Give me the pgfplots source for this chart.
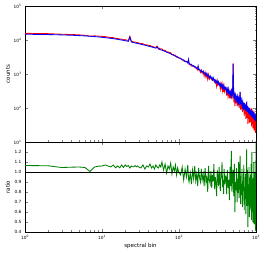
\documentclass[border=0pt]{standalone}
\usepackage{fontspec}
\setmainfont{DejaVu Sans}
\usepackage{pgfplots}
\usepackage{pgfplotstable}
\pgfplotsset{compat=1.18}
\definecolor{mplgreen}{rgb}{0,0.5,0}
\definecolor{mplblue}{rgb}{0,0,1}
\definecolor{mplred}{rgb}{1,0,0}

\pgfplotstableread{
bin blue red ratio
1 14800 15700 1.065
2 14450 15350 1.062
3 14120 14780 1.045
4 13800 14480 1.048
5 13490 14170 1.050
6 13180 13780 1.045
7 12880 12950 1.005
8 12600 13230 1.050
9 12300 13030 1.058
10 12020 12750 1.060
11 11720 12530 1.070
12 11450 12140 1.060
13 11190 11750 1.050
14 10950 11720 1.070
15 10720 11170 1.042
16 10450 11080 1.060
17 10200 10630 1.042
18 9980 10680 1.070
19 9760 10200 1.045
20 9550 10230 1.071
21 9340 9850 1.055
22 9150 9740 1.065
23 12200 12800 1.040
24 8780 9310 1.060
25 8510 8960 1.053
26 8350 8780 1.052
27 8180 8700 1.064
28 8030 8450 1.052
29 7900 8370 1.060
30 7760 8140 1.049
32 7516 7820 1.04
34 7278 7790 1.07
36 7047 7260 1.03
38 6823 7230 1.06
40 6607 6940 1.05
42 6427 6940 1.08
44 6252 6500 1.04
46 6081 6450 1.06
48 5916 6090 1.03
50 5754 6160 1.07
52 6300 6620 1.05
54 5445 5660 1.04
56 5297 5670 1.07
58 5152 5410 1.05
60 5012 5510 1.10
63 4808 4904 1.02
66 4613 4982 1.08
69 4426 4382 0.99
72 4246 4501 1.06
75 4074 4196 1.03
78 3908 4260 1.09
81 3754 3679 0.98
84 3614 3795 1.05
87 3479 3514 1.01
90 3350 3585 1.07
93 3225 3128 0.97
96 3105 3229 1.04
99 2989 2989 1.00
105 2900 2813 0.97
110 2580 2709 1.05
115 2610 2401 0.92
120 2320 2390 1.03
125 2370 2252 0.95
130 2100 2247 1.07
133 2700 2500 0.93
135 2120 1908 0.90
140 1900 1881 0.99
145 1940 1707 0.88
150 1720 1754 1.02
155 1770 1646 0.93
160 1580 1675 1.06
165 1630 1483 0.91
170 1450 1421 0.98
175 1510 1299 0.86
177 1700 1615 0.95
180 1340 1394 1.04
185 1380 1297 0.94
190 1230 1107 0.90
195 1270 1308 1.03
200 1130 1040 0.92
206 1217 1193 0.98
212 1005 864 0.86
218 1090 1134 1.04
224 896 806 0.90
230 1051 998 0.95
236 870 696 0.80
242 905 959 1.06
248 767 706 0.92
254 885 779 0.88
260 752 760 1.01
266 801 673 0.84
272 671 651 0.97
278 780 710 0.91
284 638 689 1.08
290 681 565 0.83
296 569 541 0.95
302 659 587 0.89
308 572 435 0.76
314 611 623 1.02
320 508 472 0.93
326 587 505 0.86
332 481 505 1.05
338 525 473 0.90
344 440 356 0.81
350 510 505 0.99
356 432 406 0.94
362 470 517 1.10
368 388 330 0.85
374 469 431 0.92
380 383 299 0.78
386 412 424 1.03
392 354 312 0.88
398 405 389 0.96
406 416 395 0.95
415 299 233 0.78
424 367 374 1.02
433 270 227 0.84
442 365 336 0.92
451 267 192 0.72
460 303 318 1.05
469 228 196 0.86
478 306 370 1.21
487 224 179 0.80
496 273 257 0.94
505 2000 2040 1.02
514 194 147 0.76
523 251 271 1.08
532 190 114 0.60
541 241 217 0.90
550 168 138 0.82
559 208 216 1.04
568 163 114 0.70
577 215 200 0.93
586 151 119 0.79
595 188 207 1.10
604 136 101 0.74
613 183 178 0.97
622 300 290 1.16
631 131 89 0.68
640 164 144 0.88
649 118 91 0.77
658 159 164 1.03
667 117 76 0.65
676 140 127 0.91
685 105 85 0.81
694 139 149 1.07
703 93 58 0.62
712 138 117 0.85
721 90 66 0.73
730 126 123 0.98
739 82 48 0.58
748 128 115 0.90
757 140 150 1.23
766 77 51 0.66
775 113 115 1.02
784 76 34 0.45
793 110 92 0.84
802 69 48 0.70
811 98 103 1.05
820 67 37 0.55
829 101 89 0.88
838 61 38 0.62
847 90 87 0.97
856 62 42 0.68
865 90 97 1.08
874 56 29 0.52
883 81 97 1.20
892 55 33 0.60
901 83 71 0.86
910 50 25 0.50
919 76 71 0.94
928 51 32 0.63
937 76 84 1.10
946 46 22 0.48
955 67 54 0.80
964 44 25 0.56
973 67 66 0.99
982 41 19 0.47
991 61 25 0.41
1000 41 57 1.38
}\spec

\begin{document}
\begin{tikzpicture}
\useasboundingbox (0pt,0pt) rectangle (264pt,253pt);
\begin{axis}[at={(25pt,111pt)}, anchor=south west,
  scale only axis, width=231pt, height=136pt,
  xmode=log, ymode=log, xmin=1, xmax=1000, ymin=10, ymax=100000,
  axis line style={line width=0.6pt},
  major tick length=3pt, minor tick length=1.5pt,
  tick align=inside,
  tick label style={font=\fontsize{4.3}{5}\selectfont},
  label style={font=\fontsize{5.5}{6}\selectfont},
  xtick={1,10,100,1000},
  xticklabels={},
  ytick={10,100,1000,10000,100000},
  yticklabels={10\textsuperscript{1},10\textsuperscript{2},10\textsuperscript{3},10\textsuperscript{4},10\textsuperscript{5}},
  ylabel={counts},
  ylabel style={at={(axis description cs:-0.074,0.5)}, anchor=center},
]
\addplot[mplred, line width=0.85pt] table[x=bin, y=red] {\spec};
\addplot[mplblue, line width=0.85pt] table[x=bin, y=blue] {\spec};
\end{axis}
\begin{axis}[at={(25pt,21pt)}, anchor=south west,
  scale only axis, width=231pt, height=90pt,
  xmode=log, xmin=1, xmax=1000, ymin=0.4, ymax=1.3,
  axis line style={line width=0.6pt},
  major tick length=3pt, minor tick length=1.5pt,
  tick align=inside,
  tick label style={font=\fontsize{4.3}{5}\selectfont},
  label style={font=\fontsize{5.5}{6}\selectfont},
  xtick={1,10,100,1000},
  xticklabels={10\textsuperscript{0},10\textsuperscript{1},10\textsuperscript{2},10\textsuperscript{3}},
  ytick={0.4,0.5,0.6,0.7,0.8,0.9,1.0,1.1,1.2},
  yticklabels={0.4,0.5,0.6,0.7,0.8,0.9,1.0,1.1,1.2},
  ylabel={ratio},
  ylabel style={at={(axis description cs:-0.074,0.5)}, anchor=center},
  xlabel={spectral bin},
  xlabel style={at={(axis description cs:0.5,-0.152)}, anchor=center},
]
\addplot[mplgreen, line width=0.85pt] table[x=bin, y=ratio] {\spec};
\addplot[black, line width=0.8pt] coordinates {(1,1) (1000,1)};
\end{axis}
\end{tikzpicture}
\end{document}
